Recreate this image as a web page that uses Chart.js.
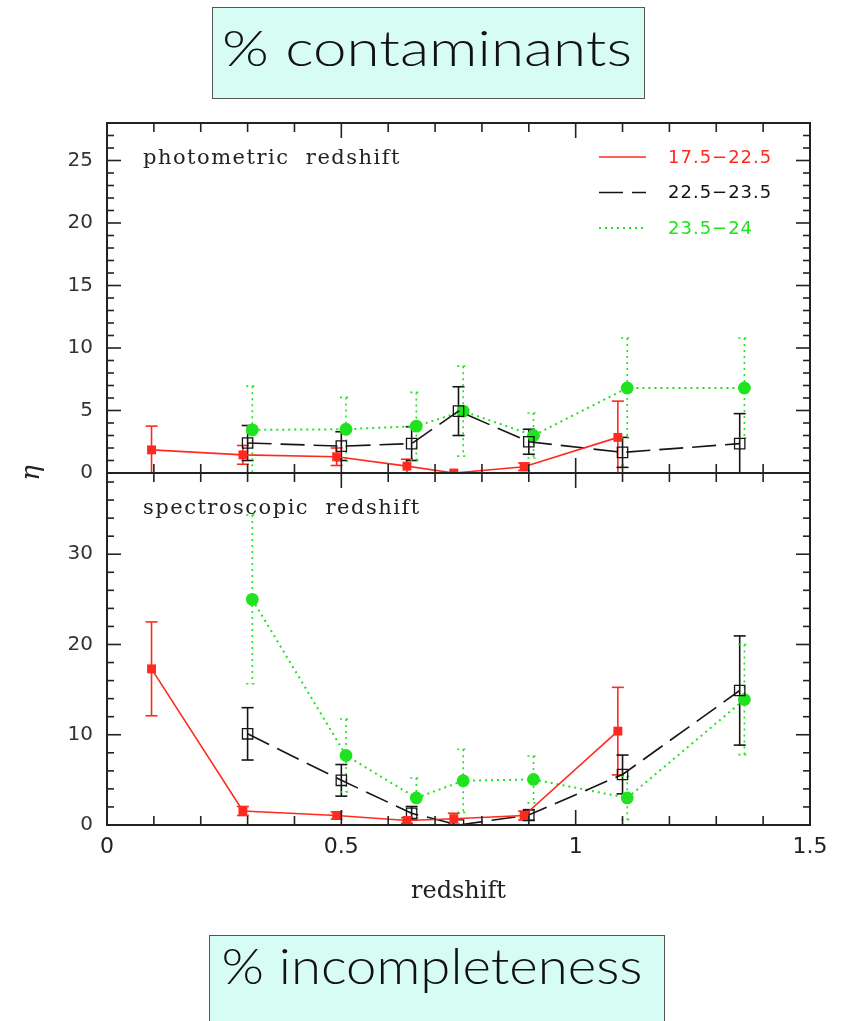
<!DOCTYPE html>
<html>
<head>
<meta charset="utf-8">
<script src="https://cdn.jsdelivr.net/npm/chart.js@4.4.1/dist/chart.umd.min.js"></script>
<style>
  body { margin: 0; background: #fff; width: 845px; height: 1021px; overflow: hidden; position: relative; }
  canvas { position: absolute; left: 0; }
  #photCanvas { top: 83px; }
  #specCanvas { top: 433px; }
  .box { position: absolute; background: #d7fcf4; border: 1.5px solid #555; box-sizing: border-box; }
  #topBox { left: 212px; top: 7px; width: 433px; height: 92px; }
  #bottomBox { left: 209px; top: 935px; width: 456px; height: 100px; }
  .caption {
    position: absolute; font-family: Lato, "Liberation Sans", sans-serif; font-weight: 300;
    font-size: 49px; line-height: 49px; color: #111; white-space: nowrap; transform-origin: 50% 50%;
  }
  #topCaption { left: 427px; top: 23px; }
  #bottomCaption { left: 432px; top: 941px; }
  #eta {
    position: absolute; left: 18px; top: 458px; width: 24px; height: 30px; text-align: center;
    font-family: "DejaVu Serif", serif; font-style: italic; font-size: 26px; color: #222;
    transform: rotate(-90deg);
  }
</style>
</head>
<body>
<div class="box" id="topBox"></div>
<div class="caption" id="topCaption" data-width="410">% contaminants</div>
<canvas id="photCanvas" width="845" height="420"></canvas>
<canvas id="specCanvas" width="845" height="473"></canvas>
<div id="eta">η</div>
<div class="box" id="bottomBox"></div>
<div class="caption" id="bottomCaption" data-width="421">% incompleteness</div>

<script>
// magnitude bins
const binLabels = ['17.5\u221222.5', '22.5\u221223.5', '23.5\u221224'];

// redshift bin centres (each bin set is slightly offset)
const redshiftRed = [0.095, 0.29, 0.49, 0.64, 0.74, 0.89, 1.09];
const redshiftBlack = [0.30, 0.50, 0.65, 0.75, 0.90, 1.10, 1.35];
const redshiftGreen = [0.31, 0.51, 0.66, 0.76, 0.91, 1.11, 1.36];

// contaminants, photometric redshift
const photRed = [1.85, 1.45, 1.3, 0.55, 0.0, 0.5, 2.85];
const photRedErr = [1.9, 0.75, 0.7, 0.55, 0, 0.3, 2.9];
const photBlack = [2.4, 2.15, 2.35, 4.95, 2.5, 1.65, 2.35];
const photBlackErr = [1.4, 1.15, 1.35, 1.95, 1.0, 1.2, 2.4];
const photGreen = [3.45, 3.5, 3.75, 4.95, 3.0, 6.8, 6.8];
const photGreenErr = [3.5, 2.55, 2.7, 3.6, 1.8, 4.0, 4.0];

// incompleteness, spectroscopic redshift
const specRed = [17.3, 1.55, 1.05, 0.5, 0.7, 1.05, 10.4];
const specRedErr = [5.2, 0.5, 0.4, 0.3, 0.6, 0.5, 4.85];
const specBlack = [10.1, 4.95, 1.3, 0.0, 1.1, 5.6, 14.9];
const specBlackErr = [2.9, 1.75, 0.75, 0, 0.6, 2.15, 6.05];
const specGreen = [25.0, 7.7, 3.0, 4.9, 5.05, 3.0, 13.9];
const specGreenErr = [9.35, 4.05, 2.2, 3.5, 2.6, 2.4, 6.1];

// axis ticks
const xTicks = [0, 0.5, 1, 1.5];
const photTicks = [0, 5, 10, 15, 20, 25];
const specTicks = [0, 10, 20, 30];

const RED = '#ff2a1f';
const BLACK = '#151515';
const GREEN = '#1ee31e';

const LINE_STYLES = [
  { color: RED, dash: [] },
  { color: BLACK, dash: [24, 9] },
  { color: GREEN, dash: [2, 4] }
];

// stretch the caption text to its box width
document.querySelectorAll('.caption').forEach(el => {
  const w = el.getBoundingClientRect().width;
  el.style.transform = 'translateX(-50%) scaleX(' + (el.dataset.width / w).toFixed(3) + ')';
});

function points(xs, ys) {
  return xs.map((x, i) => ({ x: x, y: ys[i] }));
}

function buildDatasets(red, redErr, black, blackErr, green, greenErr) {
  return [
    {
      label: binLabels[0], data: points(redshiftRed, red), errors: redErr,
      showLine: true, borderColor: RED, backgroundColor: RED, borderWidth: 1.6,
      pointStyle: 'rect', pointRadius: 6.3, pointBorderWidth: 0, errDash: []
    },
    {
      label: binLabels[1], data: points(redshiftBlack, black), errors: blackErr,
      showLine: true, borderColor: BLACK, backgroundColor: 'rgba(0,0,0,0)', borderWidth: 1.6,
      borderDash: LINE_STYLES[1].dash, pointStyle: 'rect', pointRadius: 7.3, pointBorderWidth: 1.3,
      pointBorderColor: BLACK, errDash: []
    },
    {
      label: binLabels[2], data: points(redshiftGreen, green), errors: greenErr,
      showLine: true, borderColor: GREEN, backgroundColor: GREEN, borderWidth: 2,
      borderDash: LINE_STYLES[2].dash, pointStyle: 'circle', pointRadius: 6.4, pointBorderWidth: 0,
      errDash: [2, 4]
    }
  ];
}

function strokeLine(ctx, x0, y0, x1, y1) {
  ctx.beginPath();
  ctx.moveTo(x0, y0);
  ctx.lineTo(x1, y1);
  ctx.stroke();
}

// error bars, frame with inward ticks on all four sides, panel label and legend
const panelPlugin = {
  id: 'panel',
  beforeDatasetsDraw(chart) {
    const { ctx, chartArea: a, scales: { x, y } } = chart;
    ctx.save();
    ctx.beginPath();
    ctx.rect(a.left, a.top, a.right - a.left, a.bottom - a.top);
    ctx.clip();
    chart.data.datasets.forEach(ds => {
      ctx.strokeStyle = ds.borderColor;
      ctx.lineWidth = 1.6;
      ctx.setLineDash(ds.errDash);
      ds.data.forEach((p, i) => {
        const e = ds.errors[i];
        if (!e) return;
        const px = x.getPixelForValue(p.x);
        const top = y.getPixelForValue(p.y + e);
        const bot = y.getPixelForValue(p.y - e);
        strokeLine(ctx, px, top, px, bot);
        strokeLine(ctx, px - 6, top, px + 6, top);
        strokeLine(ctx, px - 6, bot, px + 6, bot);
      });
    });
    ctx.restore();
  },
  afterDatasetsDraw(chart, args, opts) {
    const { ctx, chartArea: a, scales: { x, y } } = chart;
    ctx.save();
    ctx.strokeStyle = '#222';
    ctx.lineWidth = 2;
    ctx.strokeRect(a.left, a.top, a.right - a.left, a.bottom - a.top);

    ctx.lineWidth = 1.6;
    const nx = Math.round((x.max - x.min) / opts.xMinor);
    for (let i = 0; i <= nx; i++) {
      const v = x.min + i * opts.xMinor;
      const px = x.getPixelForValue(v);
      const len = xTicks.some(t => Math.abs(t - v) < 1e-6) ? 15 : 9;
      strokeLine(ctx, px, a.bottom, px, a.bottom - len);
      strokeLine(ctx, px, a.top, px, a.top + len);
    }
    const ny = Math.floor((y.max - y.min) / opts.yMinor + 1e-6);
    for (let i = 0; i <= ny; i++) {
      const v = y.min + i * opts.yMinor;
      const py = y.getPixelForValue(v);
      const len = opts.yMajor.includes(v) ? 14 : 7;
      strokeLine(ctx, a.left, py, a.left + len, py);
      strokeLine(ctx, a.right, py, a.right - len, py);
    }

    ctx.fillStyle = '#222';
    ctx.font = '21px "DejaVu Serif"';
    ctx.letterSpacing = '1.5px';
    ctx.textBaseline = 'alphabetic';
    ctx.textAlign = 'left';
    ctx.fillText(opts.label, a.left + 36, a.top + 41);

    if (opts.legend) {
      ctx.font = '18px "DejaVu Sans"';
      ctx.letterSpacing = '1px';
      chart.data.datasets.forEach((ds, i) => {
        const st = LINE_STYLES[i];
        const ly = a.top + 34 + i * 35.5;
        const lx = a.right - 211;
        ctx.strokeStyle = st.color;
        ctx.lineWidth = i === 2 ? 2 : 1.6;
        ctx.setLineDash(st.dash);
        strokeLine(ctx, lx, ly, lx + 47, ly);
        ctx.setLineDash([]);
        ctx.fillStyle = st.color;
        ctx.textBaseline = 'middle';
        ctx.fillText(ds.label, lx + 69, ly + 1);
      });
    }
    ctx.restore();
  }
};

function makePanel(canvasId, datasets, yMax, yTicks, yMinor, label, withLegend, padding, showX) {
  return new Chart(document.getElementById(canvasId), {
    type: 'scatter',
    data: { datasets: datasets },
    options: {
      responsive: false,
      animation: false,
      layout: { padding: padding },
      plugins: {
        legend: { display: false },
        tooltip: { enabled: false },
        panel: { xMinor: 0.1, yMinor: yMinor, yMajor: yTicks, label: label, legend: withLegend }
      },
      scales: {
        x: {
          type: 'linear', min: 0, max: 1.5, display: showX,
          afterBuildTicks: s => { s.ticks = xTicks.map(v => ({ value: v })); },
          afterFit: s => { s.height = showX ? 81 : 0; },
          grid: { display: false, drawTicks: false },
          border: { display: false },
          ticks: {
            padding: 9, color: '#222', font: { family: 'DejaVu Sans', size: 22 },
            callback: v => String(v)
          },
          title: {
            display: true, text: 'redshift', color: '#222',
            font: { family: 'DejaVu Serif', size: 24 }, padding: { top: 14, bottom: 0 }
          }
        },
        y: {
          type: 'linear', min: 0, max: yMax,
          afterBuildTicks: s => { s.ticks = yTicks.map(v => ({ value: v })); },
          afterFit: s => { s.width = 107; },
          grid: { display: false, drawTicks: false },
          border: { display: false },
          ticks: { padding: 14, color: '#333', font: { family: 'DejaVu Sans', size: 20 } }
        }
      }
    },
    plugins: [panelPlugin]
  });
}

makePanel('photCanvas',
  buildDatasets(photRed, photRedErr, photBlack, photBlackErr, photGreen, photGreenErr),
  28, photTicks, 1, 'photometric  redshift', true,
  { left: 0, right: 35, top: 40, bottom: 30 }, false);

makePanel('specCanvas',
  buildDatasets(specRed, specRedErr, specBlack, specBlackErr, specGreen, specGreenErr),
  39, specTicks, 2, 'spectroscopic  redshift', false,
  { left: 0, right: 35, top: 40, bottom: 0 }, true);
</script>
</body>
</html>
